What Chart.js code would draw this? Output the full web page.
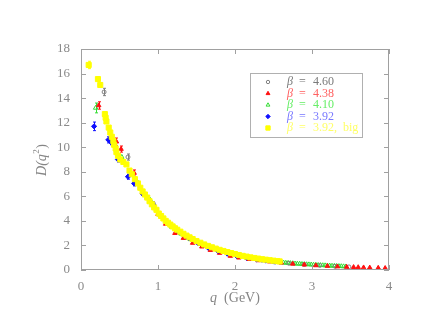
<!DOCTYPE html>
<html>
<head>
<meta charset="utf-8">
<script src="https://cdn.jsdelivr.net/npm/chart.js@4.4.1/dist/chart.umd.min.js"></script>
<style>
  html, body { margin: 0; padding: 0; background: #fff; }
  #wrap { width: 432px; height: 334px; }
</style>
</head>
<body>
<div id="wrap"><canvas id="propChart" width="432" height="334"></canvas></div>
<script>
// q (GeV) and D(q^2), one pair of arrays per beta
const qGray = [0.30, 0.61, 0.94, 1.15, 1.25, 1.38, 1.52, 1.65, 1.78, 1.92, 2.05, 2.20, 2.35, 2.50, 2.70, 2.90, 3.10, 3.30, 3.48];
const dGray = [14.5, 9.2, 5.4, 3.7, 3.15, 2.65, 2.2, 1.85, 1.55, 1.32, 1.12, 0.95, 0.8, 0.68, 0.55, 0.45, 0.37, 0.3, 0.25];
const eGray = [0.3, 0.25, 0.15];

const qRed = [0.23, 0.46, 0.52, 0.69, 0.86, 1.00, 1.10, 1.22, 1.33, 1.45, 1.57, 1.68, 1.80, 1.94, 2.05, 2.18, 2.30, 2.45, 2.60, 2.75, 2.90, 3.05, 3.20, 3.33, 3.45, 3.54, 3.60, 3.67, 3.75, 3.86, 3.95];
const dRed = [13.4, 10.45, 9.85, 7.9, 5.9, 4.55, 3.75, 3.0, 2.6, 2.2, 1.9, 1.62, 1.38, 1.14, 1.0, 0.88, 0.78, 0.68, 0.59, 0.5, 0.43, 0.37, 0.32, 0.28, 0.25, 0.23, 0.22, 0.2, 0.19, 0.17, 0.15];
const eRed = [0.3, 0.3, 0.25, 0.25];

const qGreen = [0.19, 0.53, 0.73, 0.90, 1.05, 1.18, 1.30, 1.42, 1.55, 1.68, 1.80, 1.92, 2.05, 2.15, 2.25, 2.35, 2.45, 2.55, 2.60, 2.63, 2.66, 2.69, 2.72, 2.75, 2.78, 2.81, 2.84, 2.87, 2.90, 2.93, 2.96, 2.99, 3.02, 3.05, 3.08, 3.11, 3.14, 3.17, 3.20, 3.23, 3.26, 3.29, 3.32, 3.35, 3.38, 3.41, 3.44];
const dGreen = [13.2, 9.2, 7.2, 5.7, 4.3, 3.5, 2.95, 2.5, 2.1, 1.75, 1.5, 1.3, 1.12, 1.0, 0.92, 0.84, 0.76, 0.68, 0.62, 0.6, 0.58, 0.57, 0.55, 0.54, 0.52, 0.51, 0.5, 0.48, 0.47, 0.46, 0.45, 0.44, 0.42, 0.41, 0.4, 0.39, 0.38, 0.37, 0.36, 0.35, 0.34, 0.33, 0.32, 0.31, 0.3, 0.29, 0.28];
const eGreen = [0.4];

const qBlue = [0.17, 0.355, 0.39, 0.48, 0.61, 0.69, 0.80, 0.94, 1.03, 1.15, 1.27, 1.40, 1.52, 1.65, 1.78, 1.90, 2.02, 2.15, 2.28, 2.40, 2.52];
const dBlue = [11.7, 10.6, 10.4, 9.0, 7.6, 7.05, 6.2, 5.3, 4.4, 3.7, 3.1, 2.6, 2.2, 1.82, 1.55, 1.33, 1.15, 1.0, 0.87, 0.77, 0.68];
const eBlue = [0.35, 0.25, 0.2, 0.2, 0.2, 0.2];

const qYellow = [0.10, 0.22, 0.25, 0.31, 0.32, 0.33, 0.36, 0.38, 0.40, 0.42, 0.43, 0.45, 0.46, 0.48, 0.51, 0.55, 0.59, 0.63, 0.66, 0.70, 0.74, 0.77, 0.80, 0.83, 0.86, 0.89, 0.92, 0.95, 0.98, 1.01, 1.04, 1.07, 1.10, 1.13, 1.16, 1.19, 1.22, 1.25, 1.29, 1.33, 1.37, 1.41, 1.45, 1.50, 1.55, 1.60, 1.65, 1.70, 1.75, 1.80, 1.85, 1.90, 1.95, 2.00, 2.05, 2.10, 2.15, 2.20, 2.25, 2.30, 2.35, 2.40, 2.45, 2.50, 2.55, 2.58];
const dYellow = [16.7, 15.55, 15.07, 12.7, 12.4, 12.1, 11.6, 11.2, 10.85, 10.5, 10.2, 9.9, 9.6, 9.3, 9.0, 8.8, 8.6, 8.1, 7.8, 7.4, 7.05, 6.7, 6.4, 6.15, 5.9, 5.6, 5.35, 5.1, 4.9, 4.6, 4.4, 4.2, 4.0, 3.85, 3.7, 3.55, 3.4, 3.28, 3.12, 2.95, 2.8, 2.66, 2.52, 2.36, 2.22, 2.08, 1.96, 1.85, 1.74, 1.64, 1.55, 1.46, 1.38, 1.3, 1.22, 1.15, 1.09, 1.03, 0.98, 0.93, 0.88, 0.84, 0.8, 0.76, 0.72, 0.7];
const eYellow = [0.3, 0.2, 0.2];

const legendBetas = ['4.60', '4.38', '4.10', '3.92', '3.92,  big'];
const xTicks = [0, 1, 2, 3, 4];
const yTicks = [0, 2, 4, 6, 8, 10, 12, 14, 16, 18];

function points(qs, ds) {
    return qs.map((q, i) => ({ x: q, y: ds[i] }));
}

const series = [
    { qs: qYellow, ds: dYellow, err: eYellow, color: '#ffff00', text: '#ffff66', style: 'rect', radius: 3.6, fill: true, order: 0 },
    { qs: qBlue, ds: dBlue, err: eBlue, color: '#1010ff', text: '#7878ff', style: 'rectRot', radius: 2.6, fill: true, order: 1 },
    { qs: qRed, ds: dRed, err: eRed, color: '#ff1010', text: '#ff6060', style: 'triangle', radius: 2.6, fill: true, order: 2 },
    { qs: qGray, ds: dGray, err: eGray, color: '#808080', text: '#7a7a7a', style: 'circle', radius: 2, fill: false, order: 3 },
    { qs: qGreen, ds: dGreen, err: eGreen, color: '#33dd33', text: '#66ee66', style: 'triangle', radius: 2.6, fill: false, order: 4 }
];

// legend order follows the reference: 4.60, 4.38, 4.10, 3.92, 3.92 big
const legendOrder = [3, 2, 4, 1, 0];
const legendRowY = [82, 93.5, 105, 116.5, 128];

const box = { left: 81, top: 49, right: 389, bottom: 270 };
const serif = '"Liberation Serif"';

// frame with inward ticks on all four sides, error bars, axis titles and the legend
const decorPlugin = {
    id: 'decor',
    beforeDatasetsDraw(chart) {
        const ctx = chart.ctx;
        chart.data.datasets.forEach((ds) => {
            if (!ds.errs) return;
            ctx.save();
            ctx.strokeStyle = ds.borderColor;
            ctx.lineWidth = 1;
            ds.errs.forEach((e, i) => {
                const p = ds.data[i];
                const x = Math.round(chart.scales.x.getPixelForValue(p.x)) + 0.5;
                const y1 = chart.scales.y.getPixelForValue(p.y - e);
                const y2 = chart.scales.y.getPixelForValue(p.y + e);
                ctx.beginPath();
                ctx.moveTo(x, y1); ctx.lineTo(x, y2);
                ctx.moveTo(x - 1.5, y1); ctx.lineTo(x + 1.5, y1);
                ctx.moveTo(x - 1.5, y2); ctx.lineTo(x + 1.5, y2);
                ctx.stroke();
            });
            ctx.restore();
        });
    },
    afterDraw(chart) {
        const ctx = chart.ctx;
        const a = chart.chartArea;
        const xs = chart.scales.x, ys = chart.scales.y;
        ctx.save();
        ctx.strokeStyle = '#a0a0a0';
        ctx.lineWidth = 1;
        ctx.strokeRect(a.left + 0.5, a.top + 0.5, a.right - a.left - 1, a.bottom - a.top - 1);
        ctx.beginPath();
        xTicks.forEach(v => {
            const x = Math.round(xs.getPixelForValue(v)) + 0.5;
            ctx.moveTo(x, a.bottom); ctx.lineTo(x, a.bottom - 5);
            ctx.moveTo(x, a.top); ctx.lineTo(x, a.top + 5);
        });
        yTicks.forEach(v => {
            const y = Math.round(ys.getPixelForValue(v)) + 0.5;
            ctx.moveTo(a.left, y); ctx.lineTo(a.left + 5, y);
            ctx.moveTo(a.right, y); ctx.lineTo(a.right - 5, y);
        });
        ctx.stroke();

        // x title: italic q, upright (GeV)
        ctx.fillStyle = '#858585';
        ctx.textBaseline = 'middle';
        ctx.textAlign = 'left';
        ctx.font = 'italic 14px ' + serif;
        const qW = ctx.measureText('q').width;
        ctx.font = '14px ' + serif;
        const gW = ctx.measureText('  (GeV)').width;
        const tx = 235 - (qW + gW) / 2;
        ctx.font = 'italic 14px ' + serif;
        ctx.fillText('q', tx, 298);
        ctx.font = '14px ' + serif;
        ctx.fillText('  (GeV)', tx + qW, 298);

        // y title: D(q^2), rotated
        ctx.save();
        ctx.translate(42, 160);
        ctx.rotate(-Math.PI / 2);
        ctx.font = 'italic 14px ' + serif;
        const w1 = ctx.measureText('D(q').width;
        ctx.font = '9px ' + serif;
        const w2 = ctx.measureText('2').width;
        ctx.font = '14px ' + serif;
        const w3 = ctx.measureText(')').width;
        let px = -(w1 + w2 + w3 + 1) / 2;
        ctx.font = 'italic 14px ' + serif;
        ctx.fillText('D(q', px, 0);
        px += w1;
        ctx.font = '9px ' + serif;
        ctx.fillText('2', px + 0.5, -5);
        px += w2 + 1;
        ctx.font = '14px ' + serif;
        ctx.fillText(')', px, 0);
        ctx.restore();

        // legend box and entries
        ctx.strokeStyle = '#b0b0b0';
        ctx.strokeRect(250.5, 73.5, 112, 64);
        legendOrder.forEach((si, r) => {
            const s = series[si];
            const y = legendRowY[r];
            ctx.save();
            ctx.fillStyle = s.fill ? s.color : '#ffffff';
            ctx.strokeStyle = s.color;
            ctx.lineWidth = 1;
            Chart.helpers.drawPoint(ctx, {
                pointStyle: s.style, radius: s.radius * 0.85, rotation: 0, borderWidth: 1
            }, 268, y);
            ctx.restore();
            ctx.fillStyle = s.text;
            ctx.font = 'italic 12px ' + serif;
            ctx.fillText('\u03b2', 287, y);
            ctx.font = '12px ' + serif;
            ctx.fillText('=', 299, y);
            ctx.fillText(legendBetas[r], 313, y);
        });
        ctx.restore();
    }
};

const datasets = series.map(s => ({
    data: points(s.qs, s.ds),
    errs: s.err,
    pointStyle: s.style,
    pointRadius: s.radius,
    pointBorderWidth: 1,
    borderColor: s.color,
    backgroundColor: s.fill ? s.color : 'rgba(255,255,255,0)',
    pointBackgroundColor: s.fill ? s.color : 'rgba(255,255,255,0)',
    pointBorderColor: s.color,
    showLine: false,
    order: s.order
}));

const tickFont = { family: serif, size: 13 };

new Chart(document.getElementById('propChart').getContext('2d'), {
    type: 'scatter',
    data: { datasets: datasets },
    options: {
        responsive: false,
        animation: false,
        events: [],
        layout: { padding: { left: 0, top: box.top, right: 432 - box.right, bottom: 0 } },
        plugins: { legend: { display: false }, tooltip: { enabled: false } },
        scales: {
            x: {
                type: 'linear', min: 0, max: 4,
                afterFit: (scale) => { scale.height = 334 - box.bottom; },
                afterBuildTicks: (scale) => { scale.ticks = xTicks.map(v => ({ value: v })); },
                grid: { display: false, drawTicks: false },
                border: { display: false },
                ticks: { color: '#8a8a8a', font: tickFont, padding: 9, maxRotation: 0 }
            },
            y: {
                type: 'linear', min: 0, max: 18,
                afterFit: (scale) => { scale.width = box.left; },
                afterBuildTicks: (scale) => { scale.ticks = yTicks.map(v => ({ value: v })); },
                grid: { display: false, drawTicks: false },
                border: { display: false },
                ticks: { color: '#8a8a8a', font: tickFont, padding: 11 }
            }
        }
    },
    plugins: [decorPlugin]
});
</script>
</body>
</html>
